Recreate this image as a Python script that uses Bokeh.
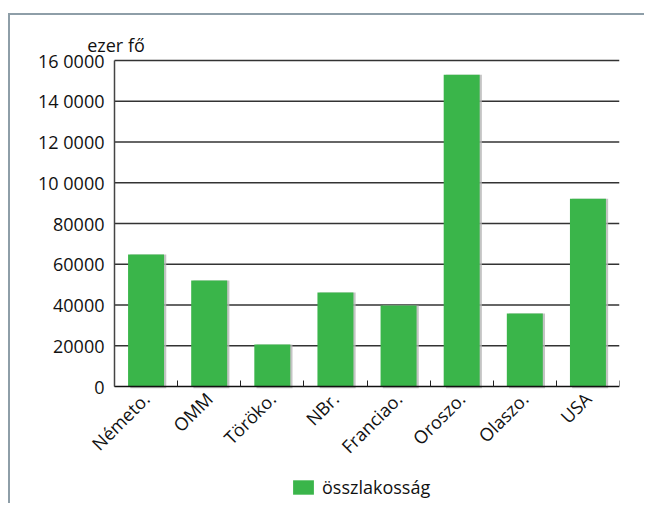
import math
from bokeh.plotting import figure
from bokeh.models import (ColumnDataSource, FixedTicker, Range1d, Label, Legend,
                          LegendItem, Dodge)
from bokeh.transform import transform
from bokeh.embed import file_html
from bokeh.resources import INLINE

categories = ["Németo.", "OMM", "Töröko.", "NBr.", "Franciao.", "Oroszo.", "Olaszo.", "USA"]
population = [64800, 52000, 20600, 46100, 39700, 153000, 35800, 92200]
series_name = "összlakosság"
y_ticks = [0, 20000, 40000, 60000, 80000, 100000, 120000, 140000, 160000]
y_tick_labels = ["0", "20000", "40000", "60000", "80000", "10 0000", "12 0000", "14 0000", "16 0000"]
y_axis_title = "ezer fő"

FONT = "Open Sans"
GREEN = "#3ab54a"
FS = "18px"
FRAME = "2px solid #8e9ea8"

# layout (pixels)
PLOT_PX = 326      # height of value axis 0..max
BELOW_PX = 119     # space under the zero line kept inside the frame
ABOVE_PX = 45      # space above the top grid line kept inside the frame
PLOT_W = 505       # width of the category axis
LEFT_PX = 104      # space left of the value axis kept inside the frame
n = len(categories)
y_max = y_ticks[-1]
px_y = y_max / PLOT_PX
px_x = n / PLOT_W
y_min = -BELOW_PX * px_y
y_top = y_max + ABOVE_PX * px_y
x_min = -LEFT_PX * px_x

xs = [i + 0.5 for i in range(n)]
src = ColumnDataSource(dict(x=xs, top=population, cat=categories))

p = figure(width=636, height=490, output_backend="svg", toolbar_location=None,
           x_range=Range1d(x_min, n), y_range=Range1d(y_min, y_top),
           min_border_left=0, min_border_right=27, min_border_top=0,
           min_border_bottom=0,
           styles={"border-top": FRAME, "border-left": FRAME,
                   "margin-top": "13px", "margin-left": "8px"})
p.outline_line_color = None
p.background_fill_color = "white"
p.border_fill_color = "white"
p.xgrid.grid_line_color = None
p.ygrid.grid_line_color = None

# horizontal grid lines over the category span
p.segment(x0=0, x1=n, y0=y_ticks[1:], y1=y_ticks[1:], line_color="#333333", line_width=1.5)

# shadow + bars
p.vbar(x=transform("x", Dodge(value=0.035)), top="top", bottom=-900, width=0.57,
       source=src, fill_color="#b5b5b5", line_color=None, fill_alpha=0.8)
r = p.vbar(x="x", top="top", width=0.57, source=src, fill_color=GREEN, line_color=None)

# axes
p.xaxis.fixed_location = 0
p.xaxis.bounds = (0, n)
p.xaxis.ticker = FixedTicker(ticks=xs, minor_ticks=list(range(n + 1)))
p.xaxis.major_label_overrides = {x: c for x, c in zip(xs, categories)}
p.xaxis.major_label_orientation = math.pi / 4
p.xaxis.major_tick_in = 0
p.xaxis.major_tick_out = 0
p.xaxis.minor_tick_in = 6
p.xaxis.minor_tick_out = 0
p.xaxis.minor_tick_line_color = "#222222"
p.xaxis.axis_line_color = "#111111"
p.xaxis.axis_line_width = 1.5
p.xaxis.major_label_standoff = 9
p.xaxis.major_label_text_font = FONT
p.xaxis.major_label_text_font_size = FS
p.xaxis.major_label_text_color = "#111111"

p.yaxis.fixed_location = 0
p.yaxis.bounds = (0, y_max)
p.yaxis.ticker = FixedTicker(ticks=y_ticks, minor_ticks=[])
p.yaxis.major_label_overrides = {t: l for t, l in zip(y_ticks, y_tick_labels)}
p.yaxis.major_tick_in = 0
p.yaxis.major_tick_out = 0
p.yaxis.minor_tick_line_color = None
p.yaxis.axis_line_color = "#444444"
p.yaxis.axis_line_width = 1.5
p.yaxis.major_label_standoff = 10
p.yaxis.major_label_text_font = FONT
p.yaxis.major_label_text_font_size = FS
p.yaxis.major_label_text_color = "#111111"

# value-axis title above the axis
p.add_layout(Label(x=1.5 * px_x, y=y_max + 16 * px_y, text=y_axis_title,
                   text_align="center", text_baseline="alphabetic", text_font=FONT,
                   text_font_size=FS, text_color="#111111"))

legend = Legend(items=[LegendItem(label=series_name, renderers=[r])],
                location=(280, 6), orientation="horizontal",
                glyph_width=26, glyph_height=18, label_text_font=FONT,
                label_text_font_size=FS, label_text_color="#111111",
                padding=0, margin=0, border_line_alpha=0, background_fill_alpha=0,
                label_standoff=6)
p.add_layout(legend, "center")

open("out.html", "w").write(file_html(p, INLINE))
